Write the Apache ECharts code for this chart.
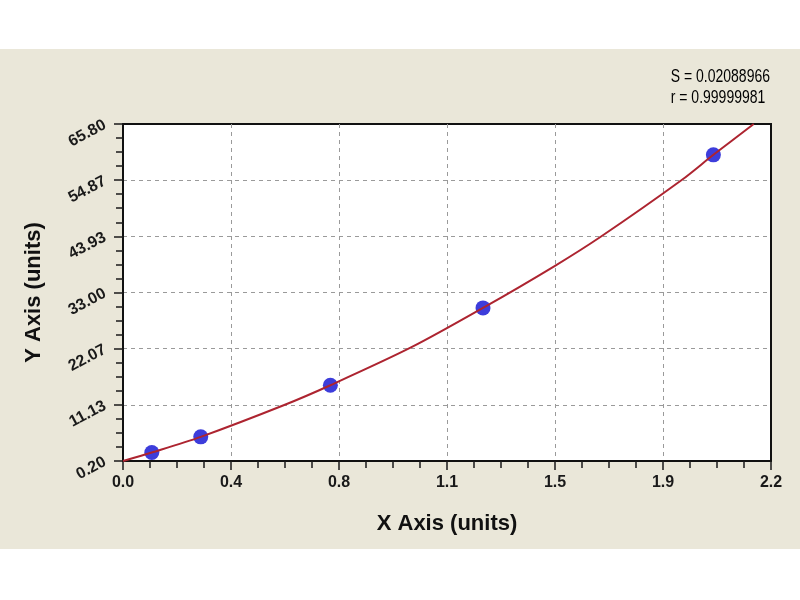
<!DOCTYPE html>
<html>
<head>
<meta charset="utf-8">
<script src="https://cdn.jsdelivr.net/npm/echarts@6/dist/echarts.min.js"></script>
<style>
    html, body { margin: 0; padding: 0; background: #ffffff; }
    #chart {
        width: 800px;
        height: 600px;
        background: linear-gradient(#ffffff 0 49px, #eae7d9 49px 549px, #ffffff 549px);
    }
</style>
</head>
<body>
<div id="chart"></div>
<script>
// tick labels as printed on the original
const xTickLabels = ['0.0', '0.4', '0.8', '1.1', '1.5', '1.9', '2.2']
const yTickLabels = ['0.20', '11.13', '22.07', '33.00', '43.93', '54.87', '65.80']

// standards (blue dots)
const pointX = [0.10, 0.27, 0.72, 1.25, 2.05]
const pointY = [1.85, 4.9, 14.95, 30.0, 59.8]

// fitted curve
const curveX = [0, 0.10, 0.27, 0.56, 0.72, 1.00, 1.25, 1.50, 1.66, 1.94, 2.05, 2.19]
const curveY = [0.2, 1.85, 4.9, 11.1, 14.95, 22.3, 30.0, 38.2, 43.9, 54.9, 59.8, 65.8]

const stats = ['S = 0.02088966', 'r = 0.99999981']

const X_MIN = 0, X_MAX = 2.25, X_STEP = 0.375
const Y_MIN = 0.2, Y_MAX = 65.8, Y_STEP = 10.93334

const LABEL_FONT = 'Liberation Sans, Arial, sans-serif'
const tickColor = '#1a1a1a'
const gridLine = {
    show: true,
    showMinLine: false,
    showMaxLine: false,
    lineStyle: { color: '#9a9a9a', type: [4, 4], width: 1 }
}

const chart = echarts.init(document.getElementById('chart'), null, { renderer: 'canvas' })

chart.setOption({
    backgroundColor: 'transparent',
    animation: false,
    grid: {
        left: 123,
        right: 29,
        top: 124,
        bottom: 139,
        show: true,
        backgroundColor: '#ffffff',
        borderColor: '#111111',
        borderWidth: 2
    },
    graphic: [
        {
            type: 'text',
            right: 30,
            top: 67,
            scaleY: 1.3,
            style: {
                text: stats.join('\n'),
                align: 'right',
                fill: '#000000',
                font: '500 14px "Liberation Sans", Arial, sans-serif',
                lineHeight: 16
            }
        }
    ],
    xAxis: {
        type: 'value',
        min: X_MIN,
        max: X_MAX,
        interval: X_STEP,
        name: 'X Axis (units)',
        nameLocation: 'middle',
        nameGap: 52,
        nameTextStyle: { fontFamily: LABEL_FONT, fontWeight: 'bold', fontSize: 22, color: '#111111' },
        axisLine: { show: true, lineStyle: { color: '#111111', width: 2 } },
        axisTick: { show: true, length: 9, lineStyle: { color: tickColor, width: 1.5 } },
        minorTick: { show: true, splitNumber: 4, length: 7, lineStyle: { color: tickColor, width: 1.5 } },
        axisLabel: {
            margin: 14,
            fontFamily: LABEL_FONT,
            fontWeight: 'bold',
            fontSize: 16,
            color: '#1a1a1a',
            formatter: v => xTickLabels[Math.round((v - X_MIN) / X_STEP)]
        },
        splitLine: gridLine
    },
    yAxis: {
        type: 'value',
        min: Y_MIN,
        max: Y_MAX,
        interval: Y_STEP,
        name: 'Y Axis (units)',
        nameLocation: 'middle',
        nameGap: 78,
        nameTextStyle: { fontFamily: LABEL_FONT, fontWeight: 'bold', fontSize: 22, color: '#111111' },
        axisLine: { show: true, lineStyle: { color: '#111111', width: 2 } },
        axisTick: { show: true, length: 9, lineStyle: { color: tickColor, width: 1.5 } },
        minorTick: { show: true, splitNumber: 4, length: 7, lineStyle: { color: tickColor, width: 1.5 } },
        axisLabel: {
            margin: 18,
            rotate: 28,
            fontFamily: LABEL_FONT,
            fontWeight: 'bold',
            fontSize: 16,
            color: '#1a1a1a',
            formatter: v => yTickLabels[Math.round((v - Y_MIN) / Y_STEP)]
        },
        splitLine: gridLine
    },
    series: [
        {
            name: 'Standards',
            type: 'scatter',
            symbol: 'circle',
            symbolSize: 15,
            data: pointX.map((x, i) => [x, pointY[i]]),
            itemStyle: { color: '#0c0cd2' }
        },
        {
            name: 'Fit',
            type: 'line',
            smooth: 0.3,
            symbol: 'none',
            showSymbol: false,
            data: curveX.map((x, i) => [x, curveY[i]]),
            lineStyle: { width: 2, color: '#ad2430' },
            itemStyle: { color: '#ad2430' }
        }
    ]
})
</script>
</body>
</html>
